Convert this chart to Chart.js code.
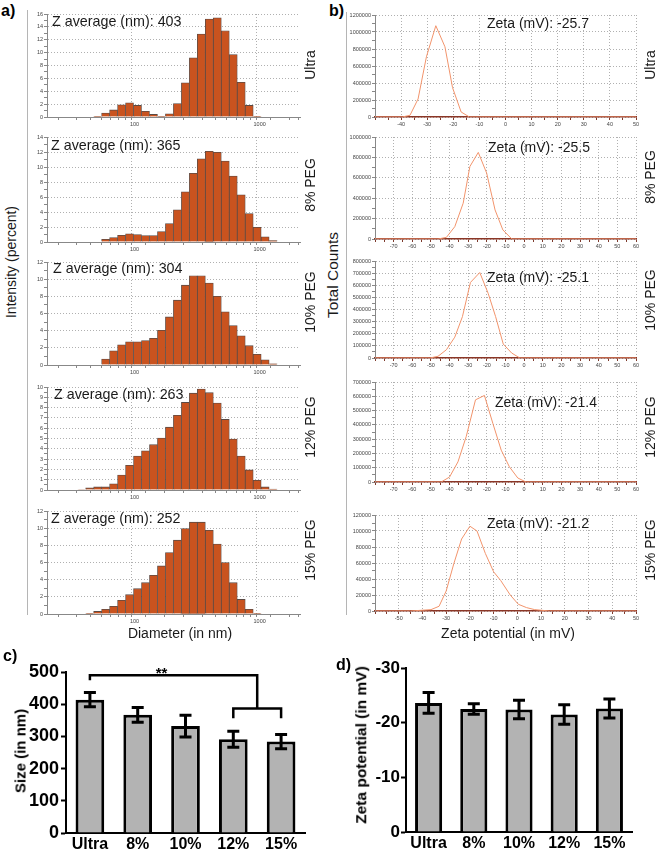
<!DOCTYPE html>
<html>
<head>
    <title>Size and zeta potential</title>
    <script src="https://cdn.jsdelivr.net/npm/chart.js"></script>
    <style>
        body { margin: 0; background: #fff; }
        #fig { position: relative; width: 658px; height: 852px; overflow: hidden; font-family: "Liberation Sans", Arial, sans-serif; color: #1a1a1a; }
        #fig canvas { position: absolute; }
        .t { position: absolute; white-space: nowrap; line-height: 1; font-size: 14px; }
        .rot { transform: translate(-50%, -50%) rotate(-90deg); }
        .mid { transform: translateX(-50%); }
        .b { font-weight: bold; color: #000; }
        .vl { position: absolute; width: 1px; background: #b5b5b5; }
    </style>
</head>
<body>
<div id="fig">
    <div class="t b" style="left:1px;top:3px;font-size:16px">a)</div>
    <div class="t b" style="left:329px;top:3px;font-size:16px">b)</div>
    <div class="t b" style="left:3px;top:648px;font-size:16px">c)</div>
    <div class="t b" style="left:336px;top:657px;font-size:16px">d)</div>

    <div class="vl" style="left:27px;top:10px;height:605px"></div>
    <div class="vl" style="left:346px;top:12px;height:603px"></div>

    <div class="t rot" style="left:11px;top:262px">Intensity (percent)</div>
    <div class="t rot" style="left:333px;top:275px;font-size:15.5px">Total Counts</div>
    <div class="t mid" style="left:180px;top:626px">Diameter (in nm)</div>
    <div class="t mid" style="left:508px;top:626px">Zeta potential (in mV)</div>

    <div class="t" style="left:52px;top:14px;font-size:14.3px">Z average (nm): 403</div>
    <div class="t" style="left:51px;top:138px;font-size:14.3px">Z average (nm): 365</div>
    <div class="t" style="left:53px;top:261px;font-size:14.3px">Z average (nm): 304</div>
    <div class="t" style="left:54px;top:387px;font-size:14.3px">Z average (nm): 263</div>
    <div class="t" style="left:51px;top:511px;font-size:14.3px">Z average (nm): 252</div>

    <div class="t" style="left:487px;top:16px">Zeta (mV): -25.7</div>
    <div class="t" style="left:488px;top:140px">Zeta (mV): -25.5</div>
    <div class="t" style="left:487px;top:270px">Zeta (mV): -25.1</div>
    <div class="t" style="left:495px;top:395px">Zeta (mV): -21.4</div>
    <div class="t" style="left:487px;top:516px">Zeta (mV): -21.2</div>

    <div class="t rot" style="left:310px;top:65px">Ultra</div>
    <div class="t rot" style="left:310px;top:185px">8% PEG</div>
    <div class="t rot" style="left:310px;top:302px">10% PEG</div>
    <div class="t rot" style="left:310px;top:427px">12% PEG</div>
    <div class="t rot" style="left:310px;top:550px">15% PEG</div>
    <div class="t rot" style="left:650px;top:65px">Ultra</div>
    <div class="t rot" style="left:650px;top:177px">8% PEG</div>
    <div class="t rot" style="left:650px;top:300px">10% PEG</div>
    <div class="t rot" style="left:650px;top:427px">12% PEG</div>
    <div class="t rot" style="left:650px;top:550px">15% PEG</div>

    <div class="t rot b" style="left:20px;top:751px;font-size:15px">Size (in nm)</div>
    <div class="t rot b" style="left:361px;top:745px;font-size:15.5px">Zeta potential (in mV)</div>
</div>

<script>
    // size classes (nm) of the intensity histograms
    const sizeBins = [37.84, 43.82, 50.75, 58.77, 68.06, 78.82, 91.28, 105.7, 122.4, 141.8, 164.2, 190.1, 220.2,
        255.0, 295.3, 342.0, 396.1, 458.7, 531.2, 615.1, 712.4, 825.0, 955.4, 1106, 1281];
    const intUltra = [0, 0, 0.1, 0.6, 1.1, 1.9, 2.2, 1.8, 0.9, 0.4, 0.1, 0.5, 2.1, 5.3, 9.2, 12.9, 15.2, 15.4, 13.4, 9.7, 5.4, 1.8, 0.1, 0, 0];
    const intPeg8 = [0, 0, 0, 0.35, 0.6, 0.9, 1.1, 1.0, 0.85, 0.85, 1.4, 2.45, 4.3, 6.7, 9.15, 11.1, 12.1, 11.95, 10.8, 8.8, 6.3, 3.8, 1.95, 0.7, 0.2];
    const intPeg10 = [0, 0, 0, 0.7, 1.65, 2.35, 2.7, 2.7, 2.85, 3.1, 4.05, 5.6, 7.55, 9.3, 10.4, 10.4, 9.55, 8.0, 6.2, 4.6, 3.4, 2.25, 1.25, 0.6, 0.15];
    const intPeg12 = [0.05, 0.2, 0.3, 0.3, 0.6, 1.45, 2.4, 3.3, 3.8, 4.4, 5.05, 6.1, 7.25, 8.5, 9.4, 9.8, 9.45, 8.45, 6.85, 4.95, 3.3, 1.95, 0.95, 0.3, 0.1];
    const intPeg15 = [0, 0.08, 0.3, 0.55, 0.9, 1.6, 2.25, 2.95, 3.65, 4.5, 5.6, 7.15, 8.6, 9.95, 10.7, 10.7, 9.75, 8.15, 6.0, 3.65, 1.7, 0.55, 0.08, 0, 0];

    // zeta potential distributions (mV, total counts)
    const zUltraX = [-50, -39.6, -36.6, -33.5, -30.3, -26.7, -23.2, -20.3, -17.0, -13.8, 50];
    const zUltraY = [0, 0, 20000, 212000, 708000, 1074000, 826000, 346000, 59000, 0, 0];
    const zPeg8X = [-80, -46.2, -41.7, -37.2, -32.7, -29.1, -24.6, -20.1, -15.6, -11.4, -6.6, 60];
    const zPeg8Y = [0, 0, 16000, 121000, 351000, 711000, 849000, 646000, 285000, 89000, 0, 0];
    const zPeg10X = [-80, -50.6, -46.2, -41.7, -37.2, -33.1, -28.8, -23.8, -19.3, -15.3, -11.2, -6.7, -2.3, 60];
    const zPeg10Y = [0, 0, 14000, 68000, 172000, 341000, 623000, 705000, 533000, 341000, 115000, 41000, 0, 0];
    const zPeg12X = [-80, -44.5, -40, -35.5, -31.1, -26.1, -21.3, -16.8, -12.3, -7.9, -3.4, 1.0, 60];
    const zPeg12Y = [0, 0, 35000, 141000, 317000, 575000, 606000, 411000, 223000, 106000, 28000, 0, 0];
    const zPeg15X = [-60, -45, -36.4, -33, -30, -26.8, -23.5, -20, -17, -13.5, -10, -7, -3, 0.4, 3.9, 7.3, 13.5, 50];
    const zPeg15Y = [0, 0, 1700, 5900, 25000, 59000, 90000, 106000, 100000, 72000, 49000, 38000, 20000, 8400, 4200, 1700, 0, 0];

    // summary bars
    const groups = ['Ultra', '8%', '10%', '12%', '15%'];
    const sizeMean = [414, 367, 332, 291, 284];
    const sizeErr = [22, 23, 34, 25, 22];
    const zetaMean = [-23.6, -22.5, -22.4, -21.5, -22.6];
    const zetaErr = [1.9, 0.95, 1.7, 1.8, 1.75];
    // significance bracket (in nm): Ultra vs 12%/15%
    const sigTop = 490, sigUltraEnd = 474, sigInner = 387, sigInnerEnd = 356;

    Chart.defaults.font.family = '"Liberation Sans", Arial, sans-serif';
    Chart.defaults.animation = false;

    const fig = document.getElementById('fig');
    const tiny = { size: 5.5 };
    const dotted = '#b0b0b0';

    function place(left, top, w, h) {
        const c = document.createElement('canvas');
        c.width = w;
        c.height = h;
        c.style.left = left + 'px';
        c.style.top = top + 'px';
        fig.insertBefore(c, fig.firstChild);
        return c;
    }

    function pairs(xs, ys) {
        return xs.map((x, i) => ({ x: x, y: ys[i] })).filter(p => p.y > 0 || xs.length < 25);
    }

    function yAxis(yMax, major) {
        return {
            min: 0, max: yMax,
            afterFit: s => { s.width = 28; },
            ticks: {
                stepSize: major / 2, autoSkip: false, font: tiny, color: '#444', padding: 1,
                callback: v => (v % major === 0 ? String(v) : '')
            },
            grid: {
                color: c => (c.tick && c.tick.value % major === 0 ? dotted : 'rgba(0,0,0,0)'),
                tickColor: '#888', tickLength: 3
            },
            border: { color: '#888', dash: [1, 2] }
        };
    }

    function makeHist(top, bottom, values, yMax, major) {
        const c = place(19, top - 6, 289, bottom - top + 18);
        new Chart(c, {
            type: 'bar',
            data: {
                datasets: [{
                    data: pairs(sizeBins, values),
                    backgroundColor: '#c9531f',
                    borderColor: '#5a4a44',
                    borderWidth: 0.8,
                    borderSkipped: 'start',
                    barThickness: 'flex',
                    categoryPercentage: 1,
                    barPercentage: 1
                }]
            },
            options: {
                responsive: false,
                layout: { padding: { top: 6, right: 8, left: 0, bottom: 0 } },
                plugins: { legend: { display: false }, tooltip: { enabled: false } },
                scales: {
                    x: {
                        type: 'logarithmic', min: 20, max: 2100,
                        afterFit: s => { s.height = 12; },
                        ticks: {
                            autoSkip: false, maxRotation: 0, font: tiny, color: '#444', padding: 1,
                            callback: v => (v === 100 || v === 1000 ? String(v) : '')
                        },
                        grid: {
                            color: c => (c.tick && (c.tick.value === 100 || c.tick.value === 1000) ? dotted : 'rgba(0,0,0,0)'),
                            tickColor: '#888', tickLength: 3
                        },
                        border: { color: '#888', dash: [1, 2] }
                    },
                    y: yAxis(yMax, major)
                }
            }
        });
    }

    function makeZeta(top, bottom, xs, ys, xMin, xMax, yMax, major) {
        const c = place(347, top - 6, 297, bottom - top + 18);
        new Chart(c, {
            type: 'line',
            data: {
                datasets: [{
                    data: pairs(xs, ys),
                    borderColor: '#f2946c',
                    borderWidth: 1,
                    pointRadius: 0,
                    tension: 0
                }]
            },
            options: {
                responsive: false,
                layout: { padding: { top: 6, right: 8, left: 0, bottom: 0 } },
                plugins: { legend: { display: false }, tooltip: { enabled: false } },
                scales: {
                    x: {
                        type: 'linear', min: xMin, max: xMax,
                        afterFit: s => { s.height = 12; },
                        ticks: {
                            stepSize: 5, autoSkip: false, maxRotation: 0, font: tiny, color: '#444', padding: 1,
                            callback: v => (v % 10 === 0 && v !== xMin ? String(v) : '')
                        },
                        grid: {
                            color: c => (c.tick && c.tick.value % 10 === 0 ? dotted : 'rgba(0,0,0,0)'),
                            tickColor: '#7e3a2c', tickLength: 3
                        },
                        border: { color: '#8b3626', width: 1.5, dash: [1, 2] }
                    },
                    y: yAxis(yMax, major)
                }
            }
        });
    }

    makeHist(14, 117, intUltra, 16, 2);
    makeHist(137, 242, intPeg8, 14, 2);
    makeHist(262, 365, intPeg10, 12, 2);
    makeHist(387, 490, intPeg12, 10, 1);
    makeHist(511, 614, intPeg15, 12, 2);

    makeZeta(15, 117, zUltraX, zUltraY, -50, 50, 1200000, 200000);
    makeZeta(137, 239, zPeg8X, zPeg8Y, -80, 60, 1000000, 200000);
    makeZeta(261, 358, zPeg10X, zPeg10Y, -80, 60, 800000, 100000);
    makeZeta(382, 482, zPeg12X, zPeg12Y, -80, 60, 700000, 100000);
    makeZeta(515, 611, zPeg15X, zPeg15Y, -60, 50, 120000, 20000);

    // error bars for the summary bar charts
    const errorBars = {
        id: 'errorBars',
        afterDatasetsDraw(chart, args, opts) {
            const { ctx, scales: { x, y } } = chart;
            const vals = chart.data.datasets[0].data;
            ctx.save();
            ctx.strokeStyle = '#000';
            ctx.lineWidth = 3;
            vals.forEach((v, i) => {
                const px = x.getPixelForValue(i);
                const a = y.getPixelForValue(v - opts.errors[i]);
                const b = y.getPixelForValue(v + opts.errors[i]);
                ctx.beginPath();
                ctx.moveTo(px, a); ctx.lineTo(px, b);
                ctx.moveTo(px - 6, a); ctx.lineTo(px + 6, a);
                ctx.moveTo(px - 6, b); ctx.lineTo(px + 6, b);
                ctx.stroke();
            });
            ctx.restore();
        }
    };

    const sigBracket = {
        id: 'sigBracket',
        afterDatasetsDraw(chart) {
            const { ctx, scales: { x, y } } = chart;
            const x0 = x.getPixelForValue(0), x3 = x.getPixelForValue(3), x4 = x.getPixelForValue(4);
            const xm = x.getPixelForValue(3.5);
            ctx.save();
            ctx.strokeStyle = '#000';
            ctx.lineWidth = 2.5;
            ctx.beginPath();
            ctx.moveTo(x0, y.getPixelForValue(sigUltraEnd));
            ctx.lineTo(x0, y.getPixelForValue(sigTop));
            ctx.lineTo(xm, y.getPixelForValue(sigTop));
            ctx.lineTo(xm, y.getPixelForValue(sigInner));
            ctx.moveTo(x3, y.getPixelForValue(sigInnerEnd));
            ctx.lineTo(x3, y.getPixelForValue(sigInner));
            ctx.lineTo(x4, y.getPixelForValue(sigInner));
            ctx.lineTo(x4, y.getPixelForValue(sigInnerEnd));
            ctx.stroke();
            ctx.fillStyle = '#000';
            ctx.font = 'bold 15px "Liberation Sans", Arial, sans-serif';
            ctx.textAlign = 'center';
            ctx.textBaseline = 'alphabetic';
            ctx.fillText('**', x.getPixelForValue(1.5), y.getPixelForValue(sigTop) + 3);
            ctx.restore();
        }
    };

    function summaryChart(canvas, values, errors, yOpts, yWidth, xHeight, pad, extra) {
        new Chart(canvas, {
            type: 'bar',
            data: {
                labels: groups,
                datasets: [{
                    data: values,
                    backgroundColor: '#b3b3b3',
                    borderColor: '#000',
                    borderWidth: 3,
                    categoryPercentage: 1,
                    barPercentage: 0.6
                }]
            },
            options: {
                responsive: false,
                layout: { padding: pad },
                plugins: { legend: { display: false }, tooltip: { enabled: false }, errorBars: { errors: errors } },
                scales: {
                    x: {
                        afterFit: s => { s.height = xHeight; },
                        ticks: { font: { size: 16, weight: 'bold' }, color: '#000', padding: 2, maxRotation: 0 },
                        grid: { display: false, drawTicks: false },
                        border: { color: '#000', width: 2 }
                    },
                    y: Object.assign({
                        afterFit: s => { s.width = yWidth; },
                        grid: { drawOnChartArea: false, tickColor: '#000', tickWidth: 2, tickLength: 5 },
                        border: { color: '#000', width: 2 }
                    }, yOpts)
                }
            },
            plugins: [errorBars].concat(extra)
        });
    }

    summaryChart(place(0, 655, 312, 197), sizeMean, sizeErr, {
        min: 0, max: 500,
        ticks: { stepSize: 100, font: { size: 18, weight: 'bold' }, color: '#000', padding: 2 }
    }, 66, 19, { top: 17, right: 7, left: 0, bottom: 0 }, [sigBracket]);

    summaryChart(place(330, 652, 310, 200), zetaMean, zetaErr, {
        min: -30, max: 0, reverse: true,
        ticks: { stepSize: 10, font: { size: 17, weight: 'bold' }, color: '#000', padding: 1 }
    }, 76, 20, { top: 16, right: 8, left: 0, bottom: 0 }, []);
</script>
</body>
</html>
